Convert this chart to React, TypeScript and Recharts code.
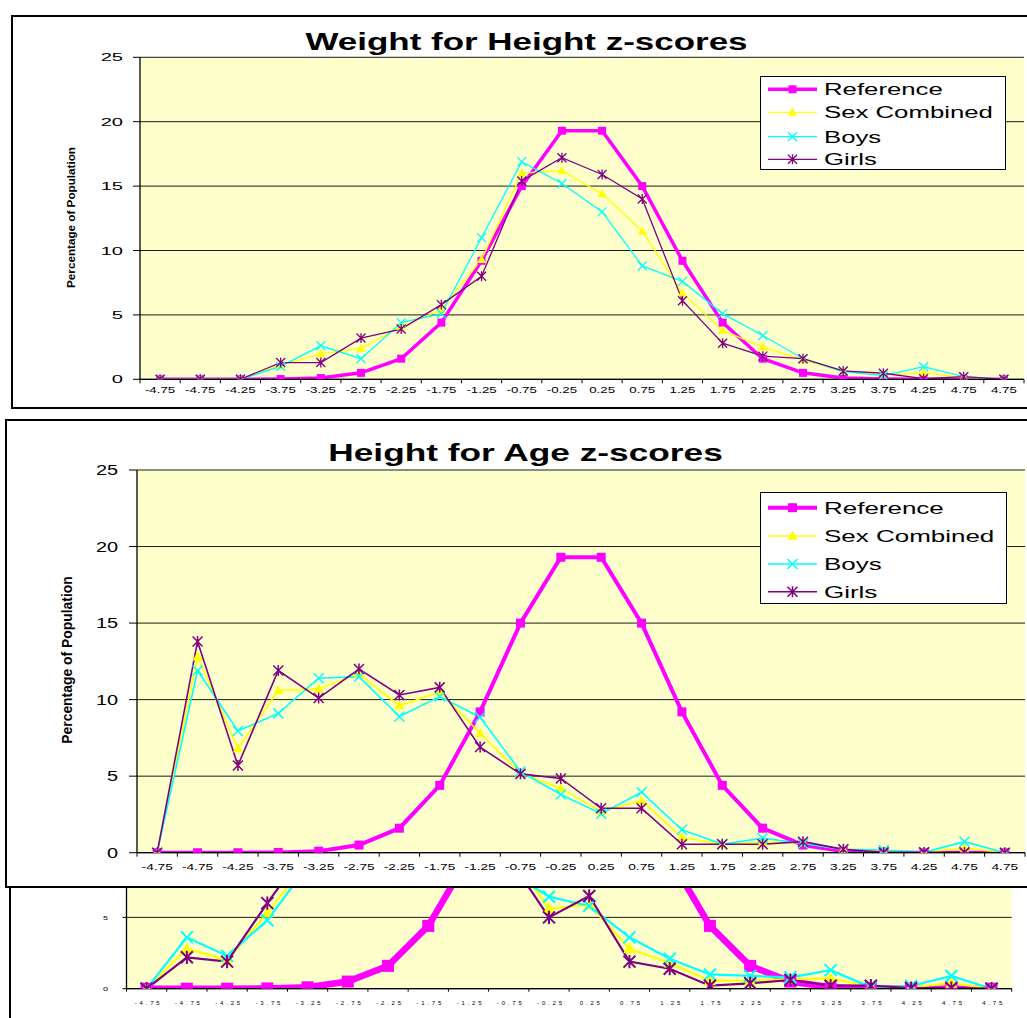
import React from 'react';
import { LineChart, Line, XAxis, YAxis, CartesianGrid, Legend } from 'recharts';

const FONT = '"Liberation Sans", Arial, Helvetica, sans-serif';

// z-score bins as printed on the category axis
const categories = [
  '-4.75', '-4.75', '-4.25', '-3.75', '-3.25', '-2.75', '-2.25', '-1.75', '-1.25', '-0.75', '-0.25',
  '0.25', '0.75', '1.25', '1.75', '2.25', '2.75', '3.25', '3.75', '4.25', '4.75', '4.75',
];
const yTicks = [0, 5, 10, 15, 20, 25];

// WHO reference distribution (% of population per bin)
const reference = [0, 0, 0, 0.02, 0.1, 0.5, 1.6, 4.4, 9.2, 15.0, 19.3, 19.3, 15.0, 9.2, 4.4, 1.6, 0.5, 0.1, 0.02, 0, 0, 0];

// Weight for Height
const wfhSexCombined = [0, 0, 0, 1.1, 2.0, 2.4, 4.1, 5.4, 9.3, 16.0, 16.2, 14.4, 11.5, 6.7, 3.8, 2.5, 1.5, 0.6, 0.35, 0.5, 0.15, 0];
const wfhBoys = [0, 0, 0, 1.0, 2.6, 1.6, 4.4, 5.1, 11.0, 16.9, 15.2, 13.0, 8.8, 7.6, 5.1, 3.4, 1.6, 0.6, 0.28, 0.98, 0.2, 0];
const wfhGirls = [0, 0, 0, 1.3, 1.3, 3.2, 3.9, 5.8, 8.0, 15.4, 17.2, 15.9, 14.0, 6.1, 2.8, 1.8, 1.6, 0.65, 0.47, 0.05, 0.2, 0];

// Height for Age
const hfaSexCombined = [0, 12.8, 6.8, 10.6, 10.7, 11.7, 9.6, 10.5, 7.8, 5.2, 4.2, 2.7, 3.4, 1.0, 0.55, 0.7, 0.65, 0.22, 0.1, 0.02, 0.3, 0];
const hfaBoys = [0, 11.9, 7.95, 9.1, 11.4, 11.5, 8.9, 10.2, 8.85, 5.3, 3.8, 2.55, 3.95, 1.5, 0.55, 0.95, 0.6, 0.22, 0.18, 0.02, 0.72, 0];
const hfaGirls = [0, 13.8, 5.7, 11.9, 10.1, 12.0, 10.3, 10.8, 6.9, 5.15, 4.85, 2.9, 2.9, 0.55, 0.55, 0.55, 0.72, 0.22, 0.02, 0.02, 0.02, 0];

// Lower chart
const lowerSexCombined = [0, 2.8, 2.0, 5.3, 9.0, 10.5, 11.5, 12.0, 11.2, 9.7, 5.6, 5.9, 2.8, 1.8, 0.56, 0.56, 0.68, 0.73, 0.14, 0.1, 0.38, 0];
const lowerBoys = [0, 3.6, 2.3, 4.8, 8.6, 10.2, 11.4, 12.3, 11.0, 8.2, 6.45, 5.8, 3.6, 2.1, 1.0, 0.9, 0.8, 1.3, 0.1, 0.19, 0.89, 0];
const lowerGirls = [0, 2.2, 1.9, 6.0, 9.9, 11.0, 12.0, 11.8, 10.8, 9.2, 5.0, 6.5, 1.9, 1.4, 0.21, 0.38, 0.61, 0.21, 0.21, 0.05, 0.05, 0];

type MarkerKind = 'square' | 'triangle' | 'x' | 'star';
interface SeriesStyle { key: string; name: string; color: string; marker: MarkerKind; }

const seriesStyle: SeriesStyle[] = [
  { key: 'reference', name: 'Reference', color: '#FF00FF', marker: 'square' },
  { key: 'sex', name: 'Sex Combined', color: '#FFFF00', marker: 'triangle' },
  { key: 'boys', name: 'Boys', color: '#00FFFF', marker: 'x' },
  { key: 'girls', name: 'Girls', color: '#800080', marker: 'star' },
];

function buildRows(sex: number[], boys: number[], girls: number[]) {
  return categories.map((label, idx) => ({
    idx,
    label,
    reference: reference[idx],
    sex: sex[idx],
    boys: boys[idx],
    girls: girls[idx],
  }));
}

function marker(kind: MarkerKind, cx: number, cy: number, size: number, color: string, key: string, sw: number) {
  const h = size / 2;
  if (kind === 'square') {
    return <rect key={key} x={cx - h} y={cy - h} width={size} height={size} fill={color} />;
  }
  if (kind === 'triangle') {
    return (
      <polygon
        key={key}
        points={`${cx},${cy - h * 1.05} ${cx + h},${cy + h * 0.75} ${cx - h},${cy + h * 0.75}`}
        fill={color}
      />
    );
  }
  if (kind === 'x') {
    return (
      <path
        key={key}
        d={`M${cx - h},${cy - h}L${cx + h},${cy + h}M${cx - h},${cy + h}L${cx + h},${cy - h}`}
        stroke={color}
        strokeWidth={sw}
        fill="none"
      />
    );
  }
  return (
    <path
      key={key}
      d={`M${cx - h},${cy - h}L${cx + h},${cy + h}M${cx - h},${cy + h}L${cx + h},${cy - h}M${cx},${cy - h * 1.1}L${cx},${cy + h * 1.1}`}
      stroke={color}
      strokeWidth={sw}
      fill="none"
    />
  );
}

interface TextSpec { x: number; y: number; size: number; sx: number; text: string; }
interface PanelSpec {
  frame: { left: number; top: number; width: number; height: number; border: number };
  plot: { l: number; t: number; r: number; b: number };
  rows: any[];
  title?: TextSpec;
  yLabel?: TextSpec;
  // tick labels above this page y sit under the panel stacked on top, so they are left out
  yTick: { right: number; size: number; sx: number; dy: number; minY: number };
  xTick: { y: number; size: number; sx: number; ls: number; dx: number };
  yTickLen: number;
  xTickLen: number;
  legend?: {
    left: number; top: number; width: number; height: number;
    rows: number[]; lineX1: number; lineX2: number; textX: number; size: number; sx: number;
  };
  refWidth: number;
  refMarker: number;
  lineWidth: number;
  markerSize: number;
  markerStroke: number;
}

function Panel({ spec }: { spec: PanelSpec }) {
  const { frame, plot } = spec;
  const ox = frame.left + frame.border;
  const oy = frame.top + frame.border;
  const W = frame.width - 2 * frame.border;
  const H = frame.height - 2 * frame.border;
  const band = (plot.r - plot.l) / categories.length;
  const axisY = plot.b - oy;

  const renderXTick = (p: any) => {
    const i = Number(p.payload.value);
    const x = p.x;
    const t = spec.xTick;
    return (
      <g key={`xt-${i}`}>
        <line x1={x - band / 2} x2={x - band / 2} y1={axisY} y2={axisY + spec.xTickLen} stroke="#000" />
        {i === categories.length - 1 ? (
          <line x1={x + band / 2} x2={x + band / 2} y1={axisY} y2={axisY + spec.xTickLen} stroke="#000" />
        ) : null}
        <text
          transform={`translate(${x + t.dx},${t.y - oy}) scale(${t.sx},1)`}
          textAnchor="middle"
          fontSize={t.size}
          fontFamily={FONT}
          letterSpacing={t.ls}
          fill="#000"
        >
          {categories[i]}
        </text>
      </g>
    );
  };

  const renderYTick = (p: any) => {
    const t = spec.yTick;
    if (p.y + oy < t.minY) return <g key={`yt-${p.payload.value}`} />;
    return (
      <text
        key={`yt-${p.payload.value}`}
        transform={`translate(${t.right - ox},${p.y + t.dy}) scale(${t.sx},1)`}
        textAnchor="end"
        fontSize={t.size}
        fontFamily={FONT}
        fill="#000"
      >
        {p.payload.value}
      </text>
    );
  };

  const dotFor = (s: SeriesStyle) => (p: any) => {
    const key = `${s.key}-${p.index}`;
    if (p.cx == null || p.cy == null) return <g key={key} />;
    const size = s.marker === 'square' ? spec.refMarker : spec.markerSize;
    return marker(s.marker, p.cx, p.cy, size, s.color, key, spec.markerStroke);
  };

  const lg = spec.legend;
  const renderLegend = (lp: any) => {
    if (!lg) return null;
    const payload: any[] = lp && lp.payload ? lp.payload : [];
    return (
      <svg width={lg.width} height={lg.height} style={{ display: 'block' }}>
        <rect x={0.5} y={0.5} width={lg.width - 1} height={lg.height - 1} fill="#fff" stroke="#000" strokeWidth={1} />
        {seriesStyle.map((s, k) => {
          const entry = payload.find((e) => e.dataKey === s.key);
          const color = entry && entry.color ? entry.color : s.color;
          const label = entry && entry.value ? entry.value : s.name;
          const cy = lg.rows[k] - lg.top;
          const x1 = lg.lineX1 - lg.left;
          const x2 = lg.lineX2 - lg.left;
          const sw = s.key === 'reference' ? spec.refWidth : spec.lineWidth;
          const size = s.marker === 'square' ? spec.refMarker : spec.markerSize;
          return (
            <g key={s.key}>
              <line x1={x1} x2={x2} y1={cy} y2={cy} stroke={color} strokeWidth={sw} />
              {marker(s.marker, (x1 + x2) / 2, cy, size, color, `lm-${s.key}`, spec.markerStroke)}
              <text
                transform={`translate(${lg.textX - lg.left},${cy + lg.size * 0.358}) scale(${lg.sx},1)`}
                fontSize={lg.size}
                fontFamily={FONT}
                fill="#000"
              >
                {label}
              </text>
            </g>
          );
        })}
      </svg>
    );
  };

  return (
    <div
      style={{
        position: 'absolute',
        left: frame.left,
        top: frame.top,
        width: frame.width,
        height: frame.height,
        boxSizing: 'border-box',
        border: `${frame.border}px solid #000`,
        background: '#fff',
      }}
    >
      <LineChart
        width={W}
        height={H}
        data={spec.rows}
        margin={{ top: plot.t - oy, right: ox + W - plot.r, bottom: 0, left: 0 }}
      >
        <CartesianGrid vertical={false} stroke="#1a1a1a" fill="#FFFFCC" fillOpacity={1} />
        <XAxis
          dataKey="idx"
          type="category"
          scale="band"
          interval={0}
          height={oy + H - plot.b}
          tickLine={false}
          axisLine={{ stroke: '#000', strokeWidth: 1.3 }}
          tick={renderXTick}
        />
        <XAxis
          xAxisId="top"
          orientation="top"
          dataKey="idx"
          type="category"
          scale="band"
          height={0}
          tick={false}
          tickLine={false}
          axisLine={{ stroke: '#8c8c8c', strokeWidth: 1.2 }}
        />
        <YAxis
          type="number"
          domain={[0, 25]}
          ticks={yTicks}
          interval={0}
          width={plot.l - ox}
          tickSize={spec.yTickLen}
          tickLine={{ stroke: '#000' }}
          axisLine={{ stroke: '#000', strokeWidth: 1.3 }}
          tick={renderYTick}
          allowDataOverflow
        />
        <YAxis
          yAxisId="right"
          orientation="right"
          type="number"
          domain={[0, 25]}
          width={0}
          tick={false}
          tickLine={false}
          axisLine={{ stroke: '#8c8c8c', strokeWidth: 1.2 }}
        />
        {seriesStyle.map((s) => (
          <Line
            key={s.key}
            dataKey={s.key}
            name={s.name}
            stroke={s.color}
            strokeWidth={s.key === 'reference' ? spec.refWidth : spec.lineWidth}
            dot={dotFor(s)}
            activeDot={false}
            isAnimationActive={false}
          />
        ))}
        {lg ? (
          <Legend
            layout="vertical"
            align="center"
            verticalAlign="middle"
            wrapperStyle={{ left: lg.left - ox, top: lg.top - oy, width: lg.width, height: lg.height, lineHeight: 0 }}
            content={renderLegend}
          />
        ) : null}
      </LineChart>
      <svg
        width={W}
        height={H}
        style={{ position: 'absolute', left: 0, top: 0, pointerEvents: 'none' }}
      >
        {spec.title ? (
          <text
            transform={`translate(${spec.title.x - ox},${spec.title.y - oy}) scale(${spec.title.sx},1)`}
            textAnchor="middle"
            fontSize={spec.title.size}
            fontWeight="bold"
            fontFamily={FONT}
            fill="#000"
          >
            {spec.title.text}
          </text>
        ) : null}
        {spec.yLabel ? (
          <text
            transform={`translate(${spec.yLabel.x - ox},${spec.yLabel.y - oy}) rotate(-90) scale(${spec.yLabel.sx},1)`}
            textAnchor="middle"
            fontSize={spec.yLabel.size}
            fontWeight="bold"
            fontFamily={FONT}
            fill="#000"
          >
            {spec.yLabel.text}
          </text>
        ) : null}
      </svg>
    </div>
  );
}

const topSpec: PanelSpec = {
  frame: { left: 11, top: 15, width: 1035, height: 394, border: 2 },
  plot: { l: 140, t: 57.3, r: 1024, b: 379.3 },
  rows: buildRows(wfhSexCombined, wfhBoys, wfhGirls),
  title: { text: 'Weight for Height z-scores', x: 526.5, y: 50, size: 23, sx: 1.52 },
  yLabel: { text: 'Percentage of Population', x: 74.8, y: 217.5, size: 11.7, sx: 1 },
  yTick: { right: 123, size: 11.5, sx: 1.75, dy: 4.1, minY: 0 },
  xTick: { y: 393.3, size: 9.3, sx: 1.43, ls: 0, dx: 0 },
  yTickLen: 7,
  xTickLen: 4,
  legend: {
    left: 760, top: 76, width: 246, height: 94,
    rows: [89.3, 112.3, 136.7, 159.3], lineX1: 768, lineX2: 817, textX: 824, size: 16.3, sx: 1.58,
  },
  refWidth: 3.5,
  refMarker: 8,
  lineWidth: 1.3,
  markerSize: 9,
  markerStroke: 1.3,
};

const middleSpec: PanelSpec = {
  frame: { left: 5, top: 419, width: 1040, height: 469, border: 2 },
  plot: { l: 137, t: 470, r: 1025, b: 852.7 },
  rows: buildRows(hfaSexCombined, hfaBoys, hfaGirls),
  title: { text: 'Height for Age z-scores', x: 525.5, y: 461, size: 24, sx: 1.47 },
  yLabel: { text: 'Percentage of Population', x: 72, y: 660, size: 13.9, sx: 1 },
  yTick: { right: 118, size: 14, sx: 1.42, dy: 5, minY: 0 },
  xTick: { y: 869.5, size: 9.8, sx: 1.4, ls: 0, dx: 0 },
  yTickLen: 8,
  xTickLen: 4,
  legend: {
    left: 760, top: 492, width: 247, height: 112,
    rows: [507.7, 536, 564, 591.7], lineX1: 768, lineX2: 817, textX: 824, size: 17.2, sx: 1.51,
  },
  refWidth: 4,
  refMarker: 9,
  lineWidth: 1.6,
  markerSize: 10,
  markerStroke: 1.5,
};

const lowerSpec: PanelSpec = {
  frame: { left: 9, top: 560, width: 1040, height: 480, border: 2 },
  plot: { l: 126.5, t: 632, r: 1011.7, b: 988.7 },
  rows: buildRows(lowerSexCombined, lowerBoys, lowerGirls),
  yTick: { right: 108, size: 6.2, sx: 1.45, dy: 2.2, minY: 888 },
  xTick: { y: 1004.9, size: 6, sx: 1, ls: 2.8, dx: 2 },
  yTickLen: 4,
  xTickLen: 3,
  refWidth: 6.5,
  refMarker: 12,
  lineWidth: 2.2,
  markerSize: 12,
  markerStroke: 2,
};

export default function App() {
  return (
    <div
      style={{
        position: 'absolute',
        left: 0,
        top: 0,
        width: 1027,
        height: 1018,
        overflow: 'hidden',
        background: '#fff',
      }}
    >
      <Panel spec={lowerSpec} />
      <Panel spec={topSpec} />
      <Panel spec={middleSpec} />
    </div>
  );
}
